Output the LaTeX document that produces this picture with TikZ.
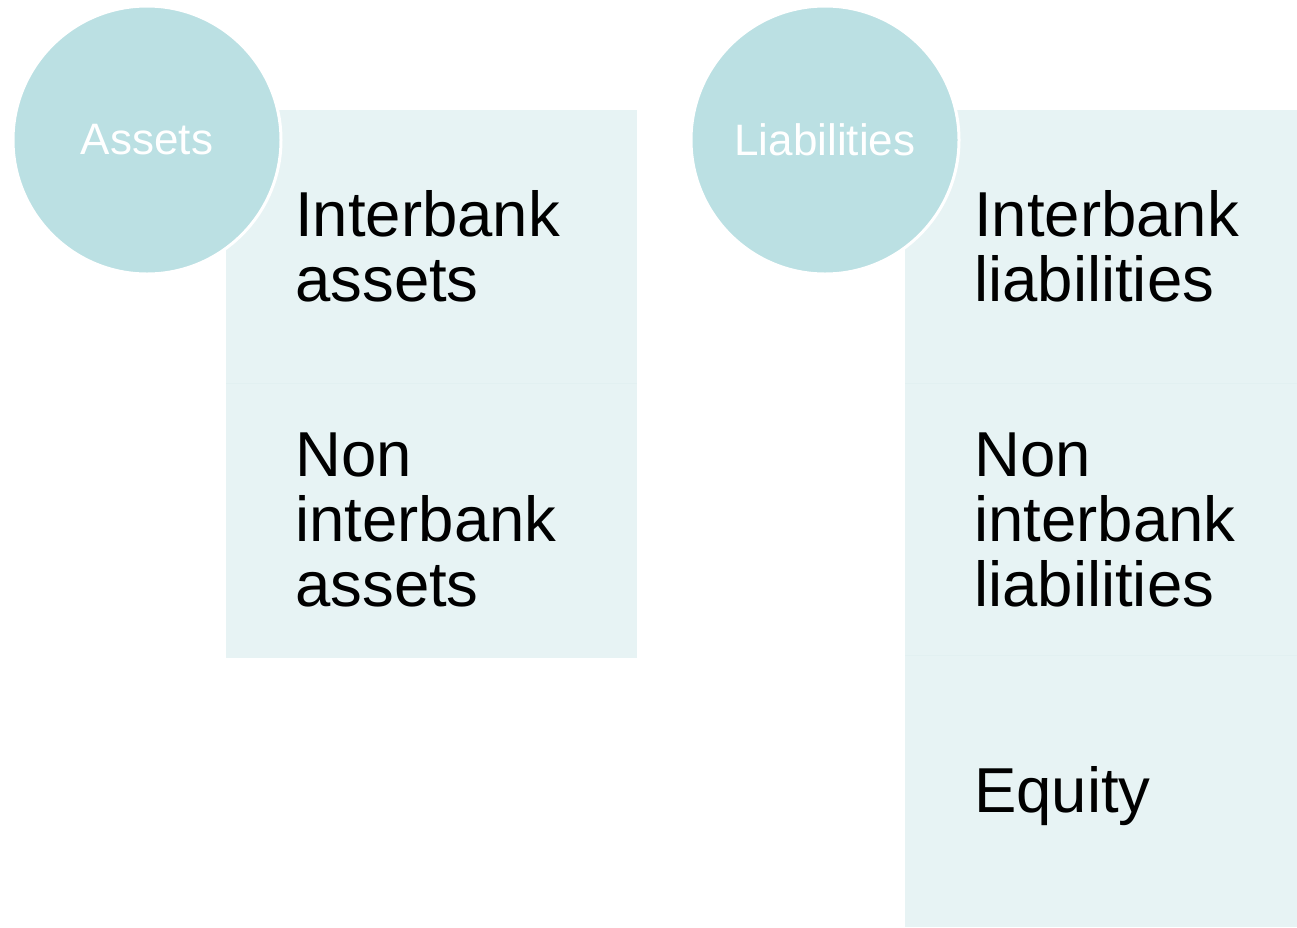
\documentclass[tikz,border=0pt]{standalone}
\usepackage{fontspec}
\setmainfont{Liberation Sans}
\definecolor{circfill}{RGB}{187,224,227}
\definecolor{boxfill}{RGB}{231,243,244}
\definecolor{sepline}{RGB}{226,240,241}
\begin{document}
\begin{tikzpicture}[x=1pt,y=-1pt,
  boxpart/.style={fill=boxfill,draw=none},
  headcirc/.style={circle,fill=circfill,draw=white,line width=3pt,minimum size=268pt,inner sep=0pt,
    text=white,font=\fontsize{44}{46}\selectfont},
  bodytext/.style={anchor=base west,inner sep=0pt,align=left,text=black,
    font=\fontsize{63.5}{65}\selectfont}]
\useasboundingbox (0,0) rectangle (1297,927);
% boxes
\fill[boxfill] (226,110) rectangle (637,658);
\fill[boxfill] (905,110) rectangle (1297,927);
\draw[sepline,line width=1pt] (226,383) -- (637,383);
\draw[sepline,line width=1pt] (905,383) -- (1297,383);
\draw[sepline,line width=1pt] (905,655) -- (1297,655);
% circles
\node[headcirc] (circA) at (147,140) {Assets};
\node[headcirc] (circL) at (825,140) {Liabilities};
% texts (base anchor = baseline of last line)
\node[bodytext] (tA1) at (295,301) {Interbank\\assets};
\node[bodytext] (tA2) at (295,606) {Non\\interbank\\assets};
\node[bodytext] (tL1) at (974,301) {Interbank\\liabilities};
\node[bodytext] (tL2) at (974,606) {Non\\interbank\\liabilities};
\node[bodytext] (tL3) at (974,812) {Equity};
\end{tikzpicture}
\end{document}
